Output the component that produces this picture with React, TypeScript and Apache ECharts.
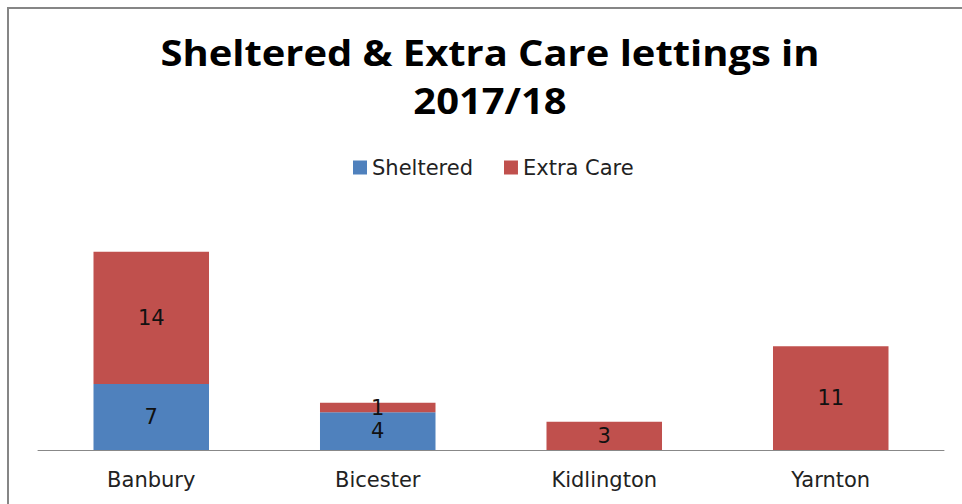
import React, { useEffect, useRef } from "react";
import * as echarts from "echarts";

const categories = ["Banbury", "Bicester", "Kidlington", "Yarnton"];
const sheltered = [7, 4, 0, 0];
const extraCare = [14, 1, 3, 11];
const titleLines = ["Sheltered & Extra Care lettings in", "2017/18"];

const TITLE_FONT = "'Open Sans', 'Noto Sans', sans-serif";
const FONT = "'DejaVu Sans', 'Noto Sans', sans-serif";

export default function App() {
  const ref = useRef<HTMLDivElement>(null);
  useEffect(() => {
    if (!ref.current) return;
    const chart = echarts.init(ref.current, undefined, { renderer: "svg" });
    const lbl = (v: any) => (v.value === 0 ? "" : String(v.value));
    chart.setOption({
      animation: false,
      backgroundColor: "#ffffff",
      legend: {
        top: 152,
        left: 348,
        itemWidth: 14,
        itemHeight: 14,
        itemGap: 31,
        icon: "rect",
        textStyle: { fontFamily: FONT, fontSize: 21, color: "#222" },
        data: ["Sheltered", "Extra Care"],
      },
      graphic: [
        {
          type: "rect",
          shape: { x: 8, y: 8, width: 980, height: 520 },
          style: { fill: "none", stroke: "#868686", lineWidth: 2 },
        },
        ...titleLines.map((t, i) => ({
          type: "text",
          x: 490,
          y: 52 + i * 48,
          scaleX: 1.14,
          style: {
            text: t,
            fill: "#000",
            font: `bold 35px ${TITLE_FONT}`,
            textAlign: "center",
            textVerticalAlign: "middle",
          },
        })),
      ],
      grid: { left: 38, right: 962 - 944, top: 214, bottom: 504 - 450, containLabel: false },
      xAxis: {
        type: "category",
        data: categories,
        axisLine: { lineStyle: { color: "#888", width: 1 } },
        axisTick: { show: false },
        axisLabel: { fontFamily: FONT, fontSize: 21, color: "#222", margin: 19 },
      },
      yAxis: { type: "value", min: 0, max: 25, show: false, splitLine: { show: false } },
      series: [
        {
          name: "Sheltered",
          type: "bar",
          stack: "a",
          data: sheltered,
          barWidth: "51%",
          itemStyle: { color: "#4f81bd" },
          label: { show: true, position: "inside", formatter: lbl, fontFamily: FONT, fontSize: 21, color: "#111" },
        },
        {
          name: "Extra Care",
          type: "bar",
          stack: "a",
          data: extraCare,
          barWidth: "51%",
          itemStyle: { color: "#c0504d" },
          label: { show: true, position: "inside", formatter: lbl, fontFamily: FONT, fontSize: 21, color: "#111" },
        },
      ],
    });
    return () => chart.dispose();
  }, []);
  return <div ref={ref} style={{ position: "absolute", left: 0, top: 0, width: 962, height: 504 }} />;
}
